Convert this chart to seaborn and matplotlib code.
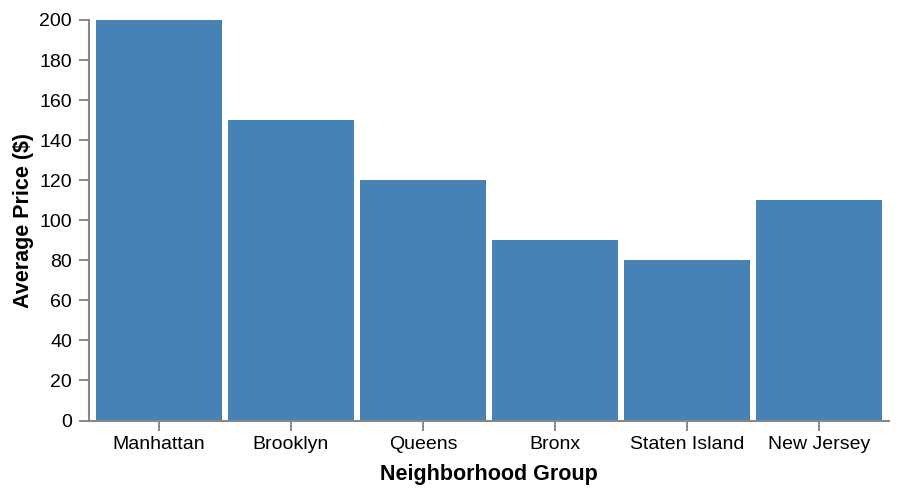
import seaborn as sns
import matplotlib.pyplot as plt
import pandas as pd

# 数据
groups = ["Manhattan", "Brooklyn", "Queens", "Bronx", "Staten Island", "New Jersey"]
prices = [200, 150, 120, 90, 80, 110]

df = pd.DataFrame({"Neighborhood Group": groups, "Average Price ($)": prices})

sns.set_style("ticks")
plt.rcParams["font.family"] = ["Liberation Sans", "DejaVu Sans"]
plt.rcParams["text.color"] = "black"
plt.rcParams["axes.labelcolor"] = "black"

fig = plt.figure(figsize=(8.98, 4.94), dpi=100)
ax = fig.add_axes([89 / 898, (494 - 420.5) / 494, 800 / 898, 400.5 / 494])

# 柱状图
sns.barplot(data=df, x="Neighborhood Group", y="Average Price ($)",
            color="#4682b4", saturation=1, width=126 / 132, linewidth=0, ax=ax)

ax.set_xlim(-0.5 - 4 / 132, 5.5 + 4 / 132)
ax.set_ylim(0, 200)
ax.set_yticks(range(0, 201, 20))

for side in ["top", "right"]:
    ax.spines[side].set_visible(False)
for side in ["left", "bottom"]:
    ax.spines[side].set_color("#888888")
    ax.spines[side].set_linewidth(1.5)

ax.tick_params(axis="both", colors="#888888", length=7.2, width=1.4,
               labelcolor="black", labelsize=14)
ax.tick_params(axis="y", pad=5)
ax.tick_params(axis="x", pad=4)

ax.set_xlabel("Neighborhood Group", fontsize=15.5, fontweight="bold", labelpad=8, color="black")
ax.set_ylabel("Average Price ($)", fontsize=15.5, fontweight="bold", labelpad=4, color="black")

fig.savefig("out.png", dpi=100)
